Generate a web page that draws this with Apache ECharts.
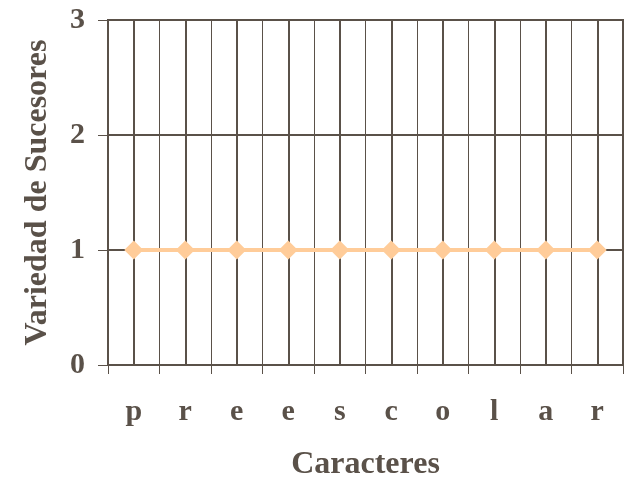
<!DOCTYPE html>
<html><head><meta charset="utf-8">
<script src="https://cdn.jsdelivr.net/npm/echarts@6/dist/echarts.min.js"></script>
<style>html,body{margin:0;padding:0;background:#fff}#c{width:631px;height:486px}</style>
</head><body><div id="c"></div>
<script>
const categories = ['p','r','e','e','s','c','o','l','a','r'];
const values = [1,1,1,1,1,1,1,1,1,1];
const yTicks = [0,1,2,3];

const ink = '#5a5149';
const font = '"Liberation Serif","Times New Roman",serif';
const chart = echarts.init(document.getElementById('c'), null, {renderer:'canvas'});
chart.setOption({
  animation:false,
  backgroundColor:'#fff',
  grid:{left:108,right:8,top:20,bottom:118,show:true,borderColor:ink,borderWidth:2},
  xAxis:{
    type:'category', data:categories, boundaryGap:true,
    name:'Caracteres', nameLocation:'middle', nameGap:84,
    nameTextStyle:{fontFamily:font,fontWeight:'bold',fontSize:32,color:ink},
    axisLine:{lineStyle:{color:ink,width:2}},
    axisTick:{show:true,length:9,inside:false,lineStyle:{color:ink,width:1}},
    axisLabel:{fontFamily:font,fontWeight:'bold',fontSize:30,color:ink,margin:32},
    splitLine:{show:true,lineStyle:{color:ink,width:1}}
  },
  yAxis:{
    type:'value', min:yTicks[0], max:yTicks[yTicks.length-1], interval:1,
    name:'Variedad de Sucesores', nameLocation:'middle', nameGap:54,
    nameTextStyle:{fontFamily:font,fontWeight:'bold',fontSize:32,color:ink},
    axisLine:{show:true,lineStyle:{color:ink,width:2}},
    axisTick:{show:true,length:10,inside:false,lineStyle:{color:ink,width:1}},
    axisLabel:{fontFamily:font,fontWeight:'bold',fontSize:30,color:ink,margin:23},
    splitLine:{show:true,lineStyle:{color:ink,width:2}}
  },
  series:[{
    type:'line', data:values, symbol:'diamond', symbolSize:19,
    itemStyle:{color:'#FFCC99'}, lineStyle:{color:'#FFCC99',width:4},
    z:5,
    markLine:{
      silent:true, symbol:'none', label:{show:false},
      lineStyle:{color:ink,width:2,type:'solid'},
      data: categories.map((c,i)=>({xAxis:i})),
      z:1
    }
  }]
});
</script></body></html>
